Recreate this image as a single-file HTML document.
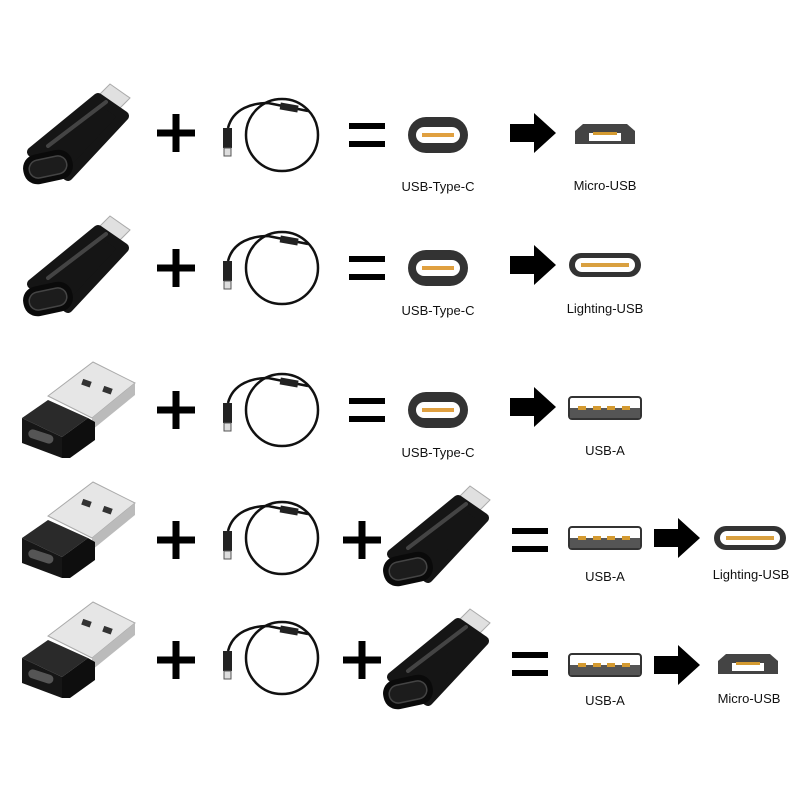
<!DOCTYPE html>
<html><head><meta charset="utf-8"><style>
html,body{margin:0;padding:0;background:#fff}
svg{display:block}
text{font-family:"Liberation Sans",sans-serif;font-size:13px;fill:#111;text-anchor:middle}
</style></head><body>
<svg width="800" height="800" viewBox="0 0 800 800" xmlns="http://www.w3.org/2000/svg">
<defs>
  <g id="plus"><rect x="-19" y="-3.5" width="38" height="7" fill="#000"/><rect x="-3.5" y="-19" width="7" height="38" fill="#000"/></g>
  <g id="eq"><rect x="-18" y="-12" width="36" height="6" fill="#000"/><rect x="-18" y="6" width="36" height="6" fill="#000"/></g>
  <g id="arrow"><polygon points="-22,-9 2,-9 2,-20 24,0 2,20 2,9 -22,9" fill="#000"/></g>
  <g id="cable" fill="none" stroke="#111" stroke-width="2.5">
    <circle cx="14" cy="2" r="36"/>
    <path d="M-40,-5 C-35,-25 -15,-30 0,-30 L40,-22"/>
    <rect x="12" y="-29" width="18" height="7" fill="#222" stroke="none" transform="rotate(10 21 -25)"/>
    <rect x="-45" y="-5" width="9" height="20" fill="#222" stroke="none"/>
    <rect x="-44" y="15" width="7" height="8" fill="#ddd" stroke="#555" stroke-width="1"/>
  </g>
  <g id="usbc"><rect x="-30" y="-18" width="60" height="36" rx="18" fill="#333"/><rect x="-22" y="-8" width="44" height="16" rx="8" fill="#fff"/><rect x="-16" y="-2" width="32" height="4" fill="#e0a040"/></g>
  <g id="light"><rect x="-36" y="-12" width="72" height="24" rx="12" fill="#333"/><rect x="-30" y="-7" width="60" height="14" rx="7" fill="#fff"/><rect x="-24" y="-2" width="48" height="4" fill="#d9a040"/></g>
  <g id="usba"><rect x="-36" y="-11" width="72" height="22" rx="3" fill="#fff" stroke="#333" stroke-width="2"/><rect x="-35" y="0" width="70" height="10" fill="#555"/>
    <rect x="-27" y="-2" width="8" height="4" fill="#d49a30"/><rect x="-12" y="-2" width="8" height="4" fill="#d49a30"/><rect x="2" y="-2" width="8" height="4" fill="#d49a30"/><rect x="17" y="-2" width="8" height="4" fill="#d49a30"/></g>
  <g id="micro"><polygon points="-30,9 -30,-4 -22,-11 22,-11 30,-4 30,9" fill="#444"/><rect x="-16" y="-2" width="32" height="8" fill="#fff"/><rect x="-12" y="-3" width="24" height="3" fill="#d49a30"/></g>
  <g id="adp">
    <polygon points="96,98 110,84 130,98 116,112" fill="#e0e0e0" stroke="#aaa"/>
    <polygon points="32,152 98,98 124,116 68,176" fill="#151515" stroke="#151515" stroke-width="10" stroke-linejoin="round"/>
    <line x1="48" y1="146" x2="106" y2="102" stroke="#444" stroke-width="4" stroke-linecap="round"/>
    <g transform="rotate(-12 48 167)">
      <rect x="23" y="152" width="50" height="30" rx="14" fill="#0a0a0a"/>
      <rect x="29" y="158" width="38" height="18" rx="9" fill="#1c1c1c" stroke="#444" stroke-width="1.5"/>
    </g>
  </g>
  <g id="usbadp">
    <polygon points="48,396 93,362 135,383 92,418" fill="#e6e6e6" stroke="#aaa"/>
    <polygon points="92,418 135,383 135,395 92,430" fill="#bbb"/>
    <rect x="82" y="380" width="9" height="6" fill="#333" transform="rotate(20 86 383)"/>
    <rect x="103" y="387" width="9" height="6" fill="#333" transform="rotate(20 107 390)"/>
    <polygon points="22,418 48,400 88,418 62,437" fill="#2a2a2a"/>
    <polygon points="22,418 62,437 62,458 22,443" fill="#161616"/>
    <polygon points="62,437 88,418 95,422 95,440 70,458 62,458" fill="#0e0e0e"/>
    <rect x="28" y="432" width="26" height="9" rx="4.5" fill="#555" transform="rotate(18 41 436)"/>
  </g>
</defs>

<!-- Row 1 -->
<use href="#adp" x="0" y="0"/>
<use href="#plus" x="176" y="133"/>
<use href="#cable" x="268" y="133"/>
<use href="#eq" x="367" y="135"/>
<use href="#usbc" x="438" y="135"/>
<text x="438" y="191">USB-Type-C</text>
<use href="#arrow" x="532" y="133"/>
<use href="#micro" x="605" y="135"/>
<text x="605" y="190">Micro-USB</text>

<!-- Row 2 -->
<use href="#adp" x="0" y="132"/>
<use href="#plus" x="176" y="268"/>
<use href="#cable" x="268" y="266"/>
<use href="#eq" x="367" y="268"/>
<use href="#usbc" x="438" y="268"/>
<text x="438" y="315">USB-Type-C</text>
<use href="#arrow" x="532" y="265"/>
<use href="#light" x="605" y="265"/>
<text x="605" y="313">Lighting-USB</text>

<!-- Row 3 -->
<use href="#usbadp" x="0" y="0"/>
<use href="#plus" x="176" y="410"/>
<use href="#cable" x="268" y="408"/>
<use href="#eq" x="367" y="410"/>
<use href="#usbc" x="438" y="410"/>
<text x="438" y="457">USB-Type-C</text>
<use href="#arrow" x="532" y="407"/>
<use href="#usba" x="605" y="408"/>
<text x="605" y="455">USB-A</text>

<!-- Row 4 -->
<use href="#usbadp" x="0" y="120"/>
<use href="#plus" x="176" y="540"/>
<use href="#cable" x="268" y="536"/>
<use href="#plus" x="362" y="540"/>
<use href="#adp" x="360" y="402"/>
<use href="#eq" x="530" y="540"/>
<use href="#usba" x="605" y="538"/>
<text x="605" y="581">USB-A</text>
<use href="#arrow" x="676" y="538"/>
<use href="#light" x="750" y="538"/>
<text x="751" y="579">Lighting-USB</text>

<!-- Row 5 -->
<use href="#usbadp" x="0" y="240"/>
<use href="#plus" x="176" y="660"/>
<use href="#cable" x="268" y="656"/>
<use href="#plus" x="362" y="660"/>
<use href="#adp" x="360" y="525"/>
<use href="#eq" x="530" y="664"/>
<use href="#usba" x="605" y="665"/>
<text x="605" y="705">USB-A</text>
<use href="#arrow" x="676" y="665"/>
<use href="#micro" x="748" y="665"/>
<text x="749" y="703">Micro-USB</text>
</svg>
</body></html>
